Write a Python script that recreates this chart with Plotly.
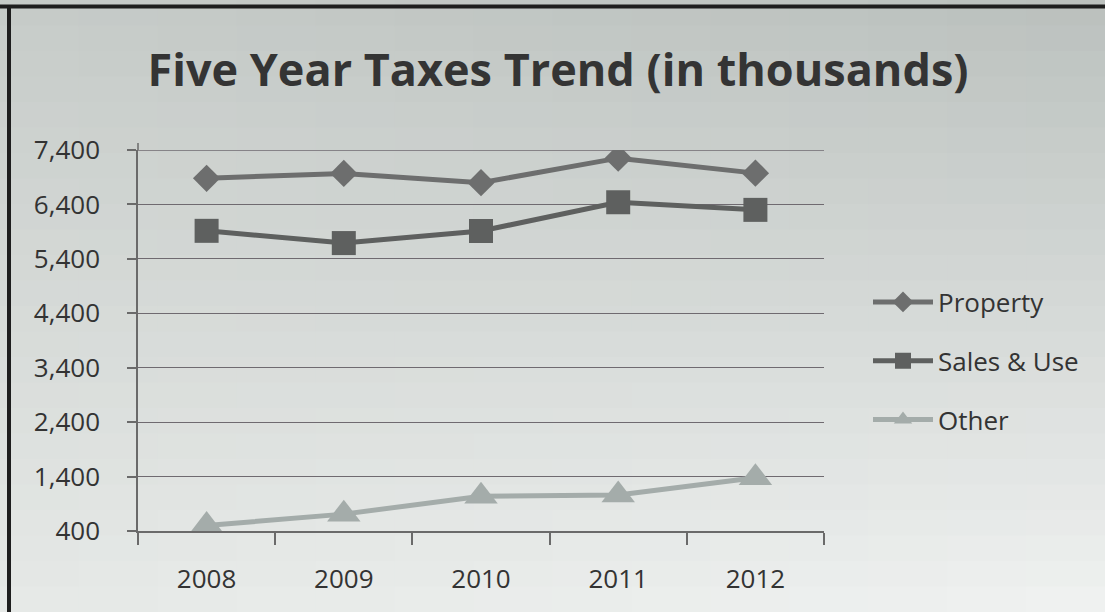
import plotly.graph_objects as go

years = ["2008", "2009", "2010", "2011", "2012"]
property_tax = [6880, 6970, 6800, 7250, 6975]
sales_use = [5915, 5690, 5912, 6440, 6300]
other_tax = [500, 710, 1040, 1060, 1380]
y_ticks = [400, 1400, 2400, 3400, 4400, 5400, 6400, 7400]
y_tick_text = ["400", "1,400", "2,400", "3,400", "4,400", "5,400", "6,400", "7,400"]

W, H = 1105, 612
L, R, T, B = 138, 281, 150, 81
PW, PH = W - L - R, H - T - B

FONT = "Open Sans, Noto Sans, sans-serif"
TXT = "#333333"
GRID = "#6f6a70"

fig = go.Figure()
fig.add_trace(go.Scatter(x=years, y=property_tax, name="Property", mode="lines+markers",
                         line=dict(color="#6d6e6e", width=5),
                         marker=dict(symbol="diamond", size=21, color="#6d6e6e")))
fig.add_trace(go.Scatter(x=years, y=sales_use, name="Sales & Use", mode="lines+markers",
                         line=dict(color="#5e605f", width=5),
                         marker=dict(symbol="square", size=24, color="#5e605f")))
fig.add_trace(go.Scatter(x=years, y=other_tax, name="Other", mode="lines+markers",
                         line=dict(color="#a4acaa", width=5),
                         marker=dict(symbol="triangle-up", size=29, color="#a4acaa")))

# background gradient (decoration)
def px2x(px):
    return (px - L) / PW

def px2y(py):
    return (H - B - py) / PH

c_tl = (198, 203, 200)
c_tr = (186, 192, 189)
c_bl = (230, 233, 231)
c_br = (240, 242, 241)
NX, NY = 14, 24
shapes = []
for i in range(NX):
    for j in range(NY):
        u = (i + 0.5) / NX
        v = (j + 0.5) / NY
        col = [int(round((1 - u) * (1 - v) * c_tl[k] + u * (1 - v) * c_tr[k]
                         + (1 - u) * v * c_bl[k] + u * v * c_br[k])) for k in range(3)]
        shapes.append(dict(type="rect", xref="paper", yref="paper", layer="below",
                           x0=px2x(W * i / NX), x1=px2x(W * (i + 1) / NX + 1),
                           y0=px2y(H * j / NY), y1=px2y(H * (j + 1) / NY + 1),
                           line=dict(width=0), fillcolor="rgb(%d,%d,%d)" % tuple(col)))
# frame lines (top and left)
shapes.append(dict(type="line", xref="paper", yref="paper", x0=px2x(0), x1=px2x(W),
                   y0=px2y(6.5), y1=px2y(6.5), line=dict(color="#1e1e1e", width=4)))
shapes.append(dict(type="line", xref="paper", yref="paper", x0=px2x(9), x1=px2x(9),
                   y0=px2y(5), y1=px2y(H), line=dict(color="#1e1e1e", width=4)))
# y-axis line slightly overshooting the top gridline
shapes.append(dict(type="line", xref="paper", yref="paper", x0=0, x1=0,
                   y0=1, y1=px2y(143), line=dict(color="#6a6a6a", width=1.5)))
# top gridline (at the range edge, which plotly clips)
shapes.append(dict(type="line", xref="paper", yref="y", layer="below", x0=0, x1=1,
                   y0=y_ticks[-1], y1=y_ticks[-1], line=dict(color=GRID, width=1.3)))

fig.update_layout(
    width=W, height=H,
    margin=dict(l=L, r=R, t=T, b=B),
    paper_bgcolor="#dcdfdd",
    plot_bgcolor="rgba(0,0,0,0)",
    shapes=shapes,
    title=dict(text="<b>Five Year Taxes Trend (in thousands)</b>",
               x=(558) / W, xanchor="center", y=1 - 70 / H, yanchor="middle",
               font=dict(family=FONT, size=45, color="#343434")),
    showlegend=True,
    legend=dict(x=px2x(868), xanchor="left", y=px2y(361), yanchor="middle",
                bgcolor="rgba(0,0,0,0)", font=dict(family=FONT, size=26, color=TXT),
                itemwidth=60, tracegroupgap=22, traceorder="grouped"),
    xaxis=dict(type="category", tickson="boundaries", ticks="outside", ticklen=12,
               tickcolor="#6a6a6a", tickwidth=1.5, showline=True, linecolor="#6a6a6a",
               linewidth=1.5, showgrid=False, ticklabelstandoff=24,
               tickfont=dict(family=FONT, size=26, color=TXT), range=[-0.5, 4.5]),
    yaxis=dict(range=[400, 7400], tickvals=y_ticks, ticktext=y_tick_text,
               ticks="outside", ticklen=9, tickcolor="#6a6a6a", tickwidth=1.5,
               showline=True, linecolor="#6a6a6a", linewidth=1.5,
               showgrid=True, gridcolor=GRID, gridwidth=1.3, zeroline=False,
               ticklabelstandoff=22, tickfont=dict(family=FONT, size=26, color=TXT)),
)
for i, tr in enumerate(fig.data):
    tr.legendgroup = "g%d" % i

fig.write_html("out.html")
